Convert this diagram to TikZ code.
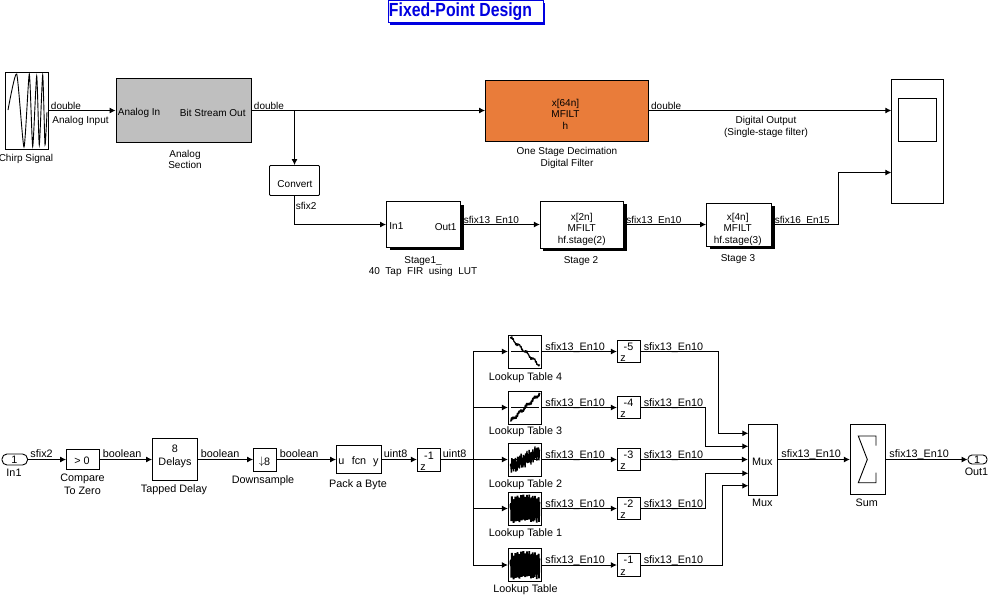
\documentclass[tikz,border=0pt]{standalone}
\usepackage{fontspec}
\usepackage{graphicx}
\setmainfont{Liberation Sans}
\usetikzlibrary{arrows.meta,shadows}
\definecolor{decimfill}{HTML}{E97C3A}
\definecolor{analogfill}{HTML}{BFBFBF}
\definecolor{titleblue}{HTML}{0000E0}
\begin{document}
\begin{tikzpicture}[x=1pt,y=-1pt,line width=0.9pt,>={Latex[length=6pt,width=6pt]},
    block/.style={draw,inner sep=0pt},
    shadowed/.style={fill=white,drop shadow={shadow xshift=3pt,shadow yshift=-3pt,fill=black,opacity=1}},
    lab/.style={anchor=base,inner sep=0pt,align=center,font=\fontsize{10}{11.5}\selectfont},
    labw/.style={lab,anchor=base west},
    labe/.style={lab,anchor=base east},
    low/.style={anchor=base,inner sep=0pt,align=center,font=\fontsize{10.8}{13}\selectfont},
    loww/.style={low,anchor=base west},
    lowe/.style={low,anchor=base east}]
  \useasboundingbox (0,0) rectangle (988,595);

  % title
  \node[draw=titleblue,fill=white,minimum width=155pt,minimum height=22pt,inner sep=0pt,text=titleblue,
        font=\fontsize{15.8}{18}\selectfont\bfseries,
        drop shadow={shadow xshift=2pt,shadow yshift=-2pt,fill=titleblue,opacity=1}] (title) at (465.5,11.5) {\kern-10pt \scalebox{1}[1.2]{Fixed-Point Design}};

  % upper row
  \node[block,minimum width=43.5pt,minimum height=77pt] (chirp) at (26.75,110.5) {};
  \node[block,fill=analogfill,minimum width=135.5pt,minimum height=64.5pt] (analog) at (183.75,110.5) {};
  \node[block,fill=decimfill,minimum width=163pt,minimum height=61pt] (decim) at (567,110.5) {};
  \node[block,minimum width=52.2pt,minimum height=123.5pt] (scp) at (917.4,141.25) {};
  \node[block,minimum width=38pt,minimum height=43pt] (screen) at (917.5,120) {};
  \coordinate (scp_1) at (891.3,110.5);
  \coordinate (scp_2) at (891.3,172.5);
  \coordinate (tap) at (294.5,110.5);
  \coordinate (bend) at (838.3,224.5);
  \node[block,rounded corners=1pt,minimum width=50pt,minimum height=30pt] (conv) at (294.5,180.5) {};
  \node[block,shadowed,minimum width=74pt,minimum height=45.5pt] (stage1) at (423.5,224.5) {};
  \node[block,shadowed,minimum width=83.4pt,minimum height=47pt] (stage2) at (582,224.5) {};
  \node[block,shadowed,minimum width=65pt,minimum height=43pt] (stage3) at (739,224.5) {};

  \draw plot[smooth,tension=0.35] coordinates {(8,110) (16.7,74) (24,147) (29.3,74) (32.7,146.5) (36.7,76) (39.3,145) (42.7,75) (45,145) (47,112)};

  \draw[->] (chirp) -- (analog);
  \draw[->] (analog) -- (decim);
  \draw[->] (decim) -- (scp_1);
  \draw[->] (tap) -- (conv);
  \draw[->] (conv.south) |- (stage1.west);
  \draw[->] (stage1) -- (stage2);
  \draw[->] (stage2) -- (stage3);
  \draw[->] (stage3) -- (bend) |- (scp_2);

  \node[labw] (s_chirp) at (50.5,109) {double};
  \node[labw] (n_input) at (52,123) {Analog Input};
  \node[lab] (n_chirp) at (26,161) {Chirp Signal};
  \node[labw] (p_in) at (117.5,115) {Analog In};
  \node[labe] (p_out) at (246,116) {Bit Stream Out};
  \node[lab] (n_analog) at (185,168.5) {Analog\\Section};
  \node[labw] (s_analog) at (253.5,109) {double};
  \node[lab] (t_conv) at (295,187) {Convert};
  \node[labw] (s_conv) at (295.5,209) {sfix2};
  \node[labw] (p_in1) at (389,229) {In1};
  \node[labe] (p_out1) at (457,230) {Out1};
  \node[lab] (n_stage1) at (423,274.5) {Stage1\_\\40\ \ Tap\ \ FIR\ \ using\ \ LUT};
  \node[labw] (s_stage1) at (463.5,223) {sfix13\_En10};
  \node[lab] (t_decim) at (565.5,129) {x[64n]\\MFILT\\h};
  \node[lab] (n_decim) at (567,166) {One Stage Decimation\\Digital Filter};
  \node[labw] (s_decim) at (650.7,109) {double};
  \node[lab] (n_output) at (766,135) {Digital Output\\(Single-stage filter)};
  \node[lab] (t_stage2) at (581.7,243) {x[2n]\\MFILT\\hf.stage(2)};
  \node[lab] (n_stage2) at (581,263.7) {Stage 2};
  \node[labw] (s_stage2) at (626,223) {sfix13\_En10};
  \node[lab] (t_stage3) at (737.7,243) {x[4n]\\MFILT\\hf.stage(3)};
  \node[lab] (n_stage3) at (738,261.7) {Stage 3};
  \node[labw] (s_stage3) at (774.3,223) {sfix16\_En15};

  % lower row
  \node[block,rounded corners=5pt,minimum width=25.5pt,minimum height=11pt] (in1) at (14.75,459.5) {};
  \node[block,minimum width=33pt,minimum height=20pt] (cmp) at (83,459.5) {};
  \node[block,minimum width=45pt,minimum height=41.5pt] (tapped) at (175,459.5) {};
  \node[block,minimum width=23pt,minimum height=23pt] (down) at (265,459.5) {};
  \node[block,minimum width=45pt,minimum height=28pt] (pack) at (359,459.5) {};
  \node[block,minimum width=23.4pt,minimum height=23pt] (dly) at (429,459.5) {};
  \node[block,minimum width=29.4pt,minimum height=71pt] (mux) at (763,459.5) {};
  \node[block,minimum width=35.4pt,minimum height=70.5pt] (sum) at (868,459.5) {};
  \node[block,rounded corners=4pt,minimum width=19pt,minimum height=9pt] (out1) at (977.5,459.5) {};
  \coordinate (bus) at (473,459.5);

  \draw[->] (in1) -- (cmp);
  \draw[->] (cmp) -- (tapped);
  \draw[->] (tapped) -- (down);
  \draw[->] (down) -- (pack);
  \draw[->] (pack) -- (dly);
  \draw[->] (mux) -- (sum);
  \draw[->] (sum) -- (out1);

  \node[low] (t_in1) at (14.5,463.5) {1};
  \node[low] (n_in1) at (14,476.7) {In1};
  \node[loww] (s_in1) at (30,457.9) {sfix2};
  \node[low] (t_cmp) at (82,464.7) {> 0};
  \node[low] (n_cmp) at (82.5,494.7) {Compare\\To Zero};
  \node[loww] (s_cmp) at (102.5,457.9) {boolean};
  \node[low] (t_tapped) at (175,465) {8\\Delays};
  \node[low] (n_tapped) at (174,492) {Tapped Delay};
  \node[loww] (s_tapped) at (200.5,457.9) {boolean};
  \node[low] (t_down) at (264.5,464.5) {\(\downarrow\)\raisebox{-1pt}{8}};
  \node[low] (n_down) at (263,483) {Downsample};
  \node[loww] (s_down) at (279.5,457.9) {boolean};
  \node[low] (t_pack) at (359,464) {fcn};
  \node[loww] (p_pack) at (338,464) {u};
  \node[lowe] (q_pack) at (379,464) {y};
  \node[low] (n_pack) at (358,487) {Pack a Byte};
  \node[loww] (s_pack) at (383.5,457.9) {uint8};
  \node[low] (e_dly) at (429,459) {-1};
  \node[low] (v_dly) at (423,470.5) {z};
  \node[loww] (s_dly) at (442.5,457.9) {uint8};
  \node[low] (t_mux) at (762.3,465) {Mux};
  \node[low] (n_mux) at (762.3,506.7) {Mux};
  \node[loww] (s_mux) at (781,457.9) {sfix13\_En10};
  \node[low] (n_sum) at (866.7,506) {Sum};
  \node[loww] (s_sum) at (889,457.9) {sfix13\_En10};
  \node[low] (t_out1) at (977,463.5) {1};
  \node[low] (n_out1) at (976.5,475.7) {Out1};
  \draw (876,445.7) -- (876,436) -- (858.3,436) -- (867.3,459.5) -- (858.3,482.7) -- (876,482.7) -- (876,472.7);

  % tables and delays
  \foreach \t/\y/\b/\n in {4/351.5/380/Lookup Table 4, 3/407.5/434.3/Lookup Table 3, 2/459.5/487.7/Lookup Table 2,
                           1/508.5/536.7/Lookup Table 1, 0/565/592.7/Lookup Table} {
      \node[block,minimum width=33.4pt,minimum height=33pt] (lut_\t) at (525,\y) {};
      \node[block,minimum width=23.4pt,minimum height=22.6pt] (z_\t) at (629,\y) {};
      \node[low] (n_lut_\t) at (525.5,\b) {\n};
      \node[loww] (s_lut_\t) at (545,\y-1.4) {sfix13\_En10};
      \node[loww] (s_z_\t) at (643.3,\y-1.4) {sfix13\_En10};
      \node[low] (e_z_\t) at (628.5,\y-1.5) {-\the\numexpr\t+1\relax};
      \node[low] (v_z_\t) at (623,\y+10.3) {z};
      \draw[->] (lut_\t) -- (z_\t);
  }
  \draw[->] (dly) -- (lut_2);
  \draw[->] (bus) |- (lut_4);
  \draw[->] (bus) |- (lut_0);
  \draw[->] (bus |- lut_3) -- (lut_3);
  \draw[->] (bus |- lut_1) -- (lut_1);

  \draw[->] (z_2) -- (mux);
  \foreach \t/\x/\y in {4/718.3/433.3, 3/705.7/446.3, 1/705.7/473.3, 0/722.3/485.7} {
      \coordinate (mux_\t) at (748.3,\y);
      \draw[->] (z_\t.east) -| (\x,\y) -- (mux_\t);
  }

  % table curves
  \foreach \y/\s/\a/\w/\k in {351.5/0.95/2.4/1.2/45, 407.5/-0.95/2.4/1.9/45, 459.5/-0.5/7.5/1.4/110, 508.5/0/13/1.8/170, 565/0/13/1.8/170} {
      \draw[line width=0.5pt] (511,\y) -- (539,\y);
      \draw[line width=\w pt,line join=bevel] plot[variable=\u,domain=-14.5:14.5,samples=\k] (525+\u,{\y+\s*\u+\a*0.55*(sin(497*\u)+sin(311*\u+40))});
  }
\end{tikzpicture}
\end{document}
